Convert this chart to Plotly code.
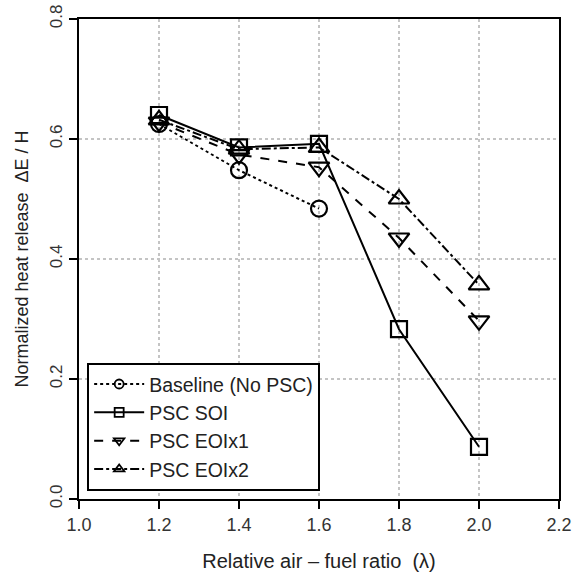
import plotly.graph_objects as go

lam = [1.2, 1.4, 1.6, 1.8, 2.0]
baseline_x = [1.2, 1.4, 1.6]
baseline_y = [0.625, 0.548, 0.484]
soi_y = [0.640, 0.586, 0.592, 0.283, 0.087]
eoix1_y = [0.628, 0.574, 0.553, 0.435, 0.297]
eoix2_y = [0.632, 0.583, 0.586, 0.500, 0.357]

x_ticks = [1.0, 1.2, 1.4, 1.6, 1.8, 2.0, 2.2]
y_ticks = [0.0, 0.2, 0.4, 0.6, 0.8]

fig = go.Figure()
series = [
    ("Baseline (No PSC)", baseline_x, baseline_y, "dot", "circle-open", 16),
    ("PSC SOI", lam, soi_y, "solid", "square-open", 16),
    ("PSC EOIx1", lam, eoix1_y, "dash", "triangle-down-open", 18),
    ("PSC EOIx2", lam, eoix2_y, "dashdot", "triangle-up-open", 18),
]
for name, xs, ys, dash, sym, sz in series:
    fig.add_trace(go.Scatter(
        x=xs, y=ys, name=name, mode="lines+markers", showlegend=False,
        line=dict(color="black", width=2, dash=dash),
        marker=dict(symbol=sym, size=sz, color="black", line=dict(width=2.2, color="black")),
    ))
# legend entries with small sample markers
for name, xs, ys, dash, sym, sz in series:
    fig.add_trace(go.Scatter(
        x=[None], y=[None], name=name, mode="lines+markers", showlegend=True,
        line=dict(color="black", width=2, dash=dash),
        marker=dict(symbol=sym, size=9, color="black", line=dict(width=1.8, color="black")),
    ))

axis_common = dict(
    showline=True, linecolor="black", linewidth=2, mirror=True,
    ticks="outside", ticklen=8, tickwidth=2, tickcolor="black",
    showgrid=True, gridcolor="#c4c4c4", griddash="dot", gridwidth=1.5,
    zeroline=False, automargin=False,
)
fig.update_xaxes(range=[1.0, 2.2], tickvals=x_ticks, ticktext=[f"{v:.1f}" for v in x_ticks],
                 tickfont=dict(size=18, color="#333333"),
                 title=dict(text="Relative air \u2013 fuel ratio  (\u03bb)", font=dict(size=20, color="#222222"), standoff=20),
                 **axis_common)
fig.update_yaxes(range=[0.0, 0.8], tickvals=y_ticks, ticktext=[f"{v:.1f}" for v in y_ticks],
                 tickangle=-90, tickfont=dict(size=17, color="#333333"),
                 title=dict(text="Normalized heat release  \u0394E / H", font=dict(size=18, color="#222222"), standoff=14),
                 **axis_common)

fig.update_layout(
    width=580, height=575,
    margin=dict(l=79, r=21, t=19, b=76),
    paper_bgcolor="white", plot_bgcolor="white",
    font=dict(family="Liberation Sans, Arial, sans-serif", color="#222222"),
    legend=dict(x=0.017, y=0.017, xanchor="left", yanchor="bottom",
                bordercolor="black", borderwidth=2, bgcolor="white",
                font=dict(size=19.5, color="#222222"), tracegroupgap=0,
                itemwidth=50),
    showlegend=True,
)

fig.write_html("out.html")
